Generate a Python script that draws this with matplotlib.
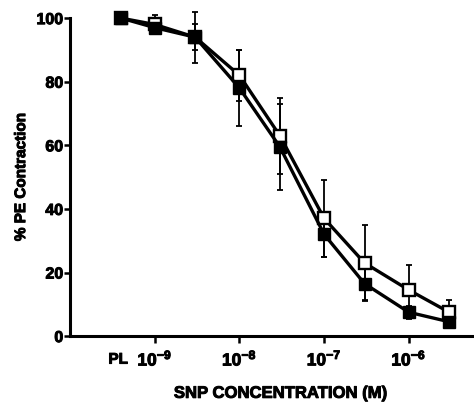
import numpy as np
import matplotlib
matplotlib.use('Agg')
import matplotlib.pyplot as plt
import matplotlib.patheffects as pe
import matplotlib.transforms as mtransforms

# SNP concentrations (M); first point is PL (plotted at 4e-10)
conc = [4e-10, 1e-9, 3e-9, 1e-8, 3e-8, 1e-7, 3e-7, 1e-6, 3e-6]
open_vals = [100, 98, 94, 82, 63, 37, 23, 14.5, 7.5]
open_err = [0, 3, 8, 8, 12, 12, 12, 8, 4]
filled_vals = [100, 97, 94, 78, 59.5, 32, 16.5, 7.5, 4.5]
filled_err = [0, 2, 4, 12, 13.5, 7, 5, 2, 2]

tick_pos = [4e-10, 1e-9, 1e-8, 1e-7, 1e-6]
tick_labels = ['PL', r'$10^{-9}$', r'$10^{-8}$', r'$10^{-7}$', r'$10^{-6}$']

plt.rcParams['font.family'] = ['Liberation Sans', 'DejaVu Sans']
plt.rcParams['font.weight'] = 'bold'
plt.rcParams['mathtext.fontset'] = 'custom'
plt.rcParams['mathtext.rm'] = 'Liberation Sans:bold'
plt.rcParams['mathtext.it'] = 'Liberation Sans:bold'
plt.rcParams['mathtext.bf'] = 'Liberation Sans:bold'
plt.rcParams['mathtext.default'] = 'rm'

heavy = [pe.withStroke(linewidth=0.7, foreground='black')]

fig = plt.figure(figsize=(4.74, 4.03), dpi=100)
ax = fig.add_axes([0.148, 0.166, 0.852, 0.789])

ax.errorbar(conc, open_vals, yerr=open_err, fmt='none', ecolor='black',
            elinewidth=1.3, capsize=2.5, capthick=1.3, zorder=2, clip_on=False)
ax.errorbar(conc, filled_vals, yerr=filled_err, fmt='none', ecolor='black',
            elinewidth=1.3, capsize=2.5, capthick=1.3, zorder=2, clip_on=False)
ax.plot(conc, open_vals, color='black', lw=2.4, marker='s', ms=8.5,
        mfc='white', mec='black', mew=1.7, zorder=3, clip_on=False)
ax.plot(conc, filled_vals, color='black', lw=2.4, marker='s', ms=8.5,
        mfc='black', mec='black', zorder=4, clip_on=False)

ax.set_xscale('log')
ax.set_xlim(1e-10, 10 ** -5.23)
ax.set_ylim(0, 100)
ax.set_xticks(tick_pos)
ax.set_xticklabels(tick_labels, fontsize=12.5)
ax.xaxis.set_minor_locator(matplotlib.ticker.NullLocator())
ax.set_yticks([0, 20, 40, 60, 80, 100])
ax.tick_params(axis='y', labelsize=11.5, width=1.8, length=4, pad=1)
ax.tick_params(axis='x', width=1.8, length=5, pad=4)
# no tick mark for PL, and sit its label on the same baseline as the powers
pl_tick = ax.xaxis.get_major_ticks()[0]
pl_tick.tick1line.set_visible(False)
pl_tick.label1.set_fontsize(11)
pl_tick.label1.set_transform(pl_tick.label1.get_transform() +
                             mtransforms.ScaledTranslation(-3 / 100, -4 / 100, fig.dpi_scale_trans))

for s in ['top', 'right']:
    ax.spines[s].set_visible(False)
for s in ['left', 'bottom']:
    ax.spines[s].set_linewidth(2.2)

ax.set_ylabel('% PE Contraction', fontsize=11, fontweight='bold', labelpad=6)
ax.set_xlabel('SNP CONCENTRATION (M)', fontsize=12, fontweight='bold')
ax.xaxis.label.set_va('center')
ax.xaxis.set_label_coords((280 - 70) / 404, -0.18)

for t in ax.get_xticklabels() + ax.get_yticklabels() + [ax.xaxis.label, ax.yaxis.label]:
    t.set_path_effects(heavy)

fig.savefig('out.png', dpi=100)
